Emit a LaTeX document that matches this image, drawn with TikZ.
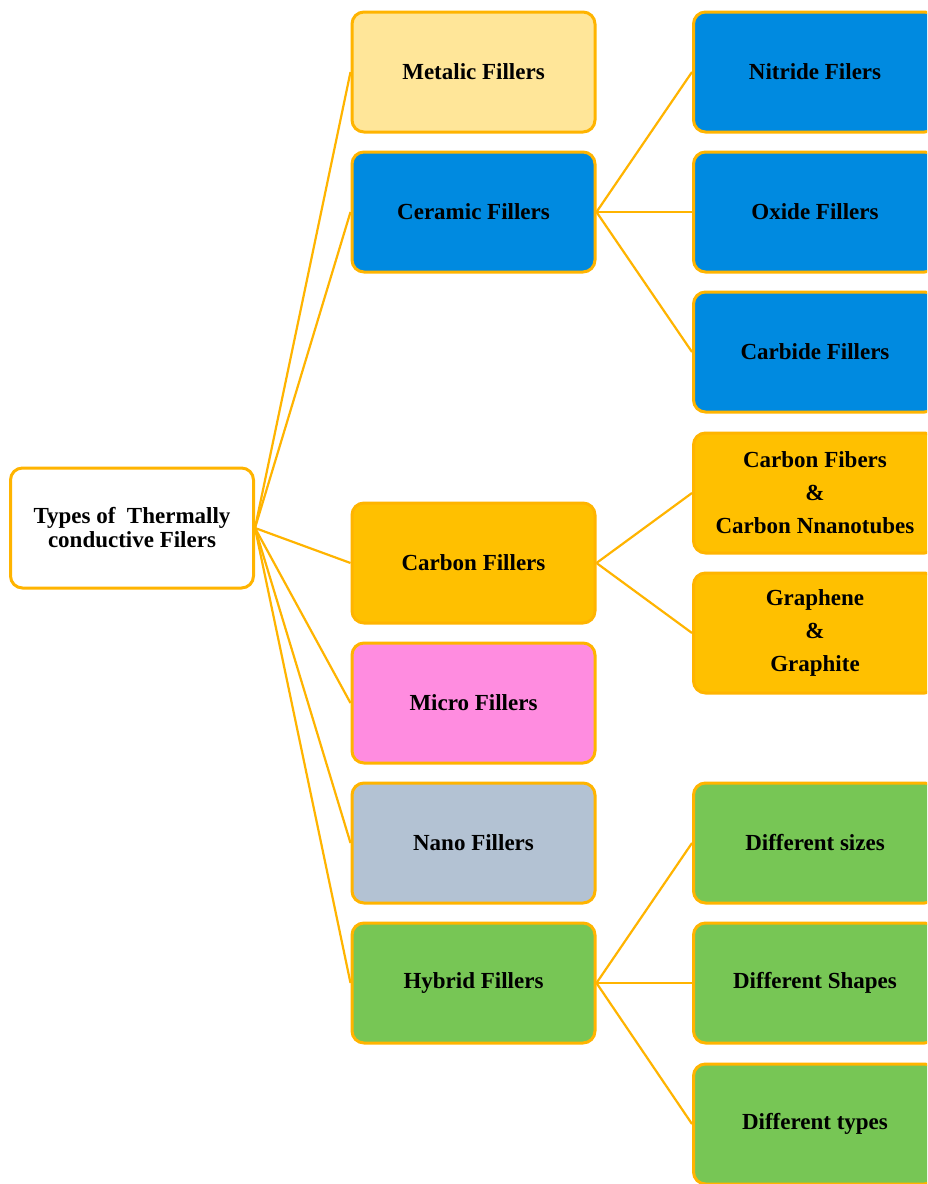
\documentclass[tikz,border=0pt]{standalone}
\usepackage{fontspec}
\setmainfont{Liberation Serif}
\definecolor{edgeor}{HTML}{FFB400}
\definecolor{cmetal}{HTML}{FFE699}
\definecolor{cblue}{HTML}{008AE0}
\definecolor{corange}{HTML}{FFC000}
\definecolor{cpink}{HTML}{FF8CE0}
\definecolor{cgray}{HTML}{B3C2D3}
\definecolor{cgreen}{HTML}{77C655}
\tikzset{
  boxstyle/.style={draw=edgeor, line width=3pt, rounded corners=12pt,
    minimum width=243pt, minimum height=120pt, align=center,
    font=\fontsize{23}{33}\selectfont\bfseries, inner sep=0pt},
  link/.style={draw=edgeor, line width=2.2pt}
}
\begin{document}
\begin{tikzpicture}[x=1pt,y=-1pt]
\clip (0,0) rectangle (927,1184);
\fill[white] (0,0) rectangle (927,1184);
% root
\node[boxstyle, fill=white, font=\fontsize{23}{24}\selectfont\bfseries] (root) at (132,528) {Types of\ \ Thermally\\conductive Filers};
% middle column
\node[boxstyle, fill=cmetal] (metal) at (473.5,72) {Metalic Fillers};
\node[boxstyle, fill=cblue] (ceramic) at (473.5,212) {Ceramic Fillers};
\node[boxstyle, fill=corange] (carbon) at (473.5,563) {Carbon Fillers};
\node[boxstyle, fill=cpink] (micro) at (473.5,703) {Micro Fillers};
\node[boxstyle, fill=cgray] (nano) at (473.5,843) {Nano Fillers};
\node[boxstyle, fill=cgreen] (hybrid) at (473.5,983) {Hybrid Fillers};
% right column
\node[boxstyle, fill=cblue] (nitride) at (815,72) {Nitride Filers};
\node[boxstyle, fill=cblue] (oxide) at (815,212) {Oxide Fillers};
\node[boxstyle, fill=cblue] (carbide) at (815,352) {Carbide Fillers};
\node[boxstyle, fill=corange] (fibers) at (815,493) {Carbon Fibers\\\&\\Carbon Nnanotubes};
\node[boxstyle, fill=corange] (graphene) at (815,633) {Graphene\\\&\\Graphite};
\node[boxstyle, fill=cgreen] (sizes) at (815,843) {Different sizes};
\node[boxstyle, fill=cgreen] (shapes) at (815,983) {Different Shapes};
\node[boxstyle, fill=cgreen] (types) at (815,1124) {Different types};
% connectors
\foreach \m in {metal,ceramic,carbon,micro,nano,hybrid}
  \draw[link] (root.east) -- (\m.west);
\foreach \r in {nitride,oxide,carbide}
  \draw[link] (ceramic.east) -- (\r.west);
\foreach \r in {fibers,graphene}
  \draw[link] (carbon.east) -- (\r.west);
\foreach \r in {sizes,shapes,types}
  \draw[link] (hybrid.east) -- (\r.west);
\end{tikzpicture}
\end{document}
